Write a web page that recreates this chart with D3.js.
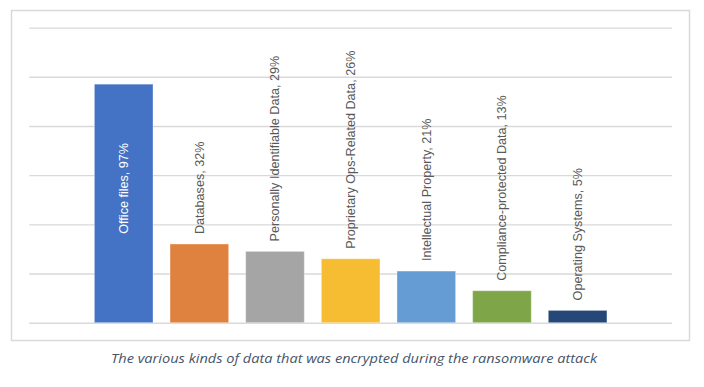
<!DOCTYPE html>
<html lang="en">
<head>
<meta charset="UTF-8">
<title>Encrypted data kinds</title>
<script src="https://d3js.org/d3.v7.min.js"></script>
<style>
    html, body { margin: 0; padding: 0; background: #fff; }
    svg { display: block; }
    .bar-label { font-family: "Liberation Sans", Arial, sans-serif; font-size: 12.6px; fill: #595959; }
    .caption { font-family: "Open Sans", sans-serif; font-style: italic; font-size: 13.5px; fill: #44546a; }
</style>
</head>
<body>
<div id="chart"></div>
<script>
// data
const categories = ["Office files", "Databases", "Personally Identifiable Data", "Proprietary Ops-Related Data",
    "Intellectual Property", "Compliance-protected Data", "Operating Systems"];
const values = [97, 32, 29, 26, 21, 13, 5];
const barColors = ["#4472c4", "#e0823f", "#a5a5a5", "#f6bd32", "#669cd4", "#7ea648", "#264878"];
const gridTicks = [0, 20, 40, 60, 80, 100, 120];
const captionText = "The various kinds of data that was encrypted during the ransomware attack";

const width = 704, height = 387;
const plot = {left: 29.3, right: 672, top: 27.6, bottom: 322.7};

const svg = d3.select("#chart").append("svg")
    .attr("width", width)
    .attr("height", height);

svg.append("rect").attr("width", width).attr("height", height).attr("fill", "#fff");

// chart frame
svg.append("rect")
    .attr("x", 11.5).attr("y", 10.5)
    .attr("width", 678).attr("height", 330)
    .attr("fill", "none")
    .attr("stroke", "#d9d9d9")
    .attr("stroke-width", 1.5);

const x = d3.scaleBand()
    .domain(categories)
    .range([plot.left, plot.right])
    .paddingInner(0.225)
    .paddingOuter(0.86);

const y = d3.scaleLinear()
    .domain([0, 120])
    .range([plot.bottom, plot.top]);

// gridlines
svg.append("g")
    .attr("transform", `translate(${plot.left},0)`)
    .call(d3.axisLeft(y).tickValues(gridTicks).tickSize(-(plot.right - plot.left)).tickFormat(""))
    .call(g => g.select(".domain").remove())
    .call(g => g.selectAll(".tick line").attr("stroke", "#d9d9d9").attr("stroke-width", 1.4));

const data = categories.map((c, i) => ({name: c, value: values[i], color: barColors[i]}));

// bars
svg.selectAll(".bar")
    .data(data)
    .enter()
    .append("rect")
    .attr("class", "bar")
    .attr("x", d => x(d.name))
    .attr("width", x.bandwidth())
    .attr("y", d => y(d.value))
    .attr("height", d => y(0) - y(d.value))
    .attr("fill", d => d.color)
    .attr("stroke", "rgba(255,255,255,0.35)")
    .attr("stroke-width", 1);

// labels: the tallest one sits inside its bar, the others above
svg.selectAll(".bar-label")
    .data(data)
    .enter()
    .append("text")
    .attr("class", "bar-label")
    .attr("transform", (d, i) => {
        const cx = x(d.name) + x.bandwidth() / 2 + 4.5;
        const ty = i === 0 ? y(0) - 89 : y(d.value) - 10;
        return `translate(${cx},${ty}) rotate(-90)`;
    })
    .attr("text-anchor", "start")
    .style("fill", (d, i) => i === 0 ? "#ffffff" : null)
    .text(d => `${d.name}, ${d.value}%`);

// caption
svg.append("text")
    .attr("class", "caption")
    .attr("x", 111)
    .attr("y", 363)
    .attr("textLength", 486)
    .attr("lengthAdjust", "spacingAndGlyphs")
    .text(captionText);
</script>
</body>
</html>
